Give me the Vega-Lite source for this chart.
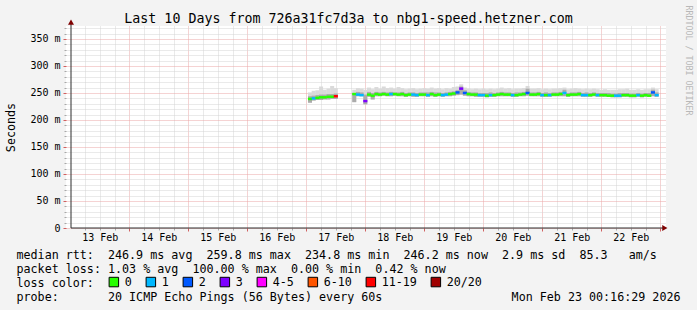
{
  "$schema": "https://vega.github.io/schema/vega-lite/v6.json",
  "width": 600,
  "height": 202,
  "autosize": {"type": "none"},
  "padding": {"left": 66, "top": 26, "right": 31, "bottom": 82},
  "background": "#f3f3f3",
  "config": {
    "view": {"fill": "#ffffff", "stroke": null},
    "font": "DejaVu Sans Mono",
    "axis": {"labelFont": "DejaVu Sans Mono", "titleFont": "DejaVu Sans Mono", "titleFontWeight": "normal", "titleColor": "#000000", "labelColor": "#000000"}
  },
  "title": {
    "text": "Last 10 Days from 726a31fc7d3a to nbg1-speed.hetzner.com",
    "font": "DejaVu Sans Mono",
    "fontSize": 13.3,
    "fontWeight": "normal",
    "color": "#000000",
    "anchor": "middle",
    "frame": "group",
    "dx": -17.5,
    "dy": 20,
    "offset": 0
  },
  "datasets": {
    "ping": [
      {"t": "2026-02-17T01:30", "lo": 232, "q": 244, "m": 239, "hi": 251, "l": "0"},
      {"t": "2026-02-17T03:00", "lo": 236, "q": 245, "m": 240, "hi": 254, "l": "1"},
      {"t": "2026-02-17T04:30", "lo": 237, "q": 246, "m": 241, "hi": 255, "l": "0"},
      {"t": "2026-02-17T06:00", "lo": 237, "q": 247, "m": 242, "hi": 262, "l": "0"},
      {"t": "2026-02-17T07:30", "lo": 238, "q": 247, "m": 242, "hi": 256, "l": "0"},
      {"t": "2026-02-17T09:00", "lo": 238, "q": 248, "m": 243, "hi": 258, "l": "0"},
      {"t": "2026-02-17T10:30", "lo": 239, "q": 248, "m": 243, "hi": 263, "l": "0"},
      {"t": "2026-02-17T12:00", "lo": 239, "q": 249, "m": 244, "hi": 259, "l": "11-19"},
      {"t": "2026-02-17T19:30", "lo": 233, "q": 250, "m": 248, "hi": 256, "l": "0"},
      {"t": "2026-02-17T21:00", "lo": 244, "q": 252, "m": 247, "hi": 259, "l": "1"},
      {"t": "2026-02-17T22:30", "lo": 244, "q": 251, "m": 246, "hi": 258, "l": "1"},
      {"t": "2026-02-18T00:00", "lo": 229, "q": 247, "m": 235, "hi": 256, "l": "3"},
      {"t": "2026-02-18T01:30", "lo": 243, "q": 252, "m": 247, "hi": 260, "l": "0"},
      {"t": "2026-02-18T03:00", "lo": 238, "q": 250, "m": 245, "hi": 257, "l": "0"},
      {"t": "2026-02-18T04:30", "lo": 244, "q": 252, "m": 248, "hi": 261, "l": "0"},
      {"t": "2026-02-18T06:00", "lo": 244, "q": 251, "m": 247, "hi": 258, "l": "0"},
      {"t": "2026-02-18T07:30", "lo": 245, "q": 252, "m": 248, "hi": 262, "l": "0"},
      {"t": "2026-02-18T09:00", "lo": 244, "q": 251, "m": 247, "hi": 259, "l": "0"},
      {"t": "2026-02-18T10:30", "lo": 244, "q": 252, "m": 248, "hi": 260, "l": "1"},
      {"t": "2026-02-18T12:00", "lo": 245, "q": 251, "m": 248, "hi": 258, "l": "0"},
      {"t": "2026-02-18T13:30", "lo": 244, "q": 251, "m": 247, "hi": 261, "l": "0"},
      {"t": "2026-02-18T15:00", "lo": 244, "q": 252, "m": 248, "hi": 259, "l": "0"},
      {"t": "2026-02-18T16:30", "lo": 243, "q": 250, "m": 246, "hi": 257, "l": "0"},
      {"t": "2026-02-18T18:00", "lo": 244, "q": 251, "m": 247, "hi": 258, "l": "0"},
      {"t": "2026-02-18T19:30", "lo": 243, "q": 251, "m": 247, "hi": 259, "l": "1"},
      {"t": "2026-02-18T21:00", "lo": 243, "q": 250, "m": 246, "hi": 257, "l": "1"},
      {"t": "2026-02-18T22:30", "lo": 244, "q": 251, "m": 247, "hi": 258, "l": "0"},
      {"t": "2026-02-19T00:00", "lo": 244, "q": 251, "m": 247, "hi": 259, "l": "0"},
      {"t": "2026-02-19T01:30", "lo": 243, "q": 251, "m": 246, "hi": 258, "l": "1"},
      {"t": "2026-02-19T03:00", "lo": 244, "q": 252, "m": 248, "hi": 260, "l": "0"},
      {"t": "2026-02-19T04:30", "lo": 243, "q": 251, "m": 246, "hi": 258, "l": "0"},
      {"t": "2026-02-19T06:00", "lo": 244, "q": 251, "m": 247, "hi": 259, "l": "0"},
      {"t": "2026-02-19T07:30", "lo": 243, "q": 250, "m": 246, "hi": 257, "l": "1"},
      {"t": "2026-02-19T09:00", "lo": 244, "q": 251, "m": 247, "hi": 259, "l": "1"},
      {"t": "2026-02-19T10:30", "lo": 244, "q": 252, "m": 248, "hi": 258, "l": "0"},
      {"t": "2026-02-19T12:00", "lo": 245, "q": 253, "m": 249, "hi": 261, "l": "0"},
      {"t": "2026-02-19T13:30", "lo": 246, "q": 255, "m": 251, "hi": 262, "l": "2"},
      {"t": "2026-02-19T15:00", "lo": 247, "q": 262, "m": 258, "hi": 266, "l": "3"},
      {"t": "2026-02-19T16:30", "lo": 245, "q": 255, "m": 250, "hi": 260, "l": "2"},
      {"t": "2026-02-19T18:00", "lo": 244, "q": 252, "m": 248, "hi": 258, "l": "0"},
      {"t": "2026-02-19T19:30", "lo": 244, "q": 251, "m": 247, "hi": 257, "l": "0"},
      {"t": "2026-02-19T21:00", "lo": 243, "q": 251, "m": 247, "hi": 258, "l": "0"},
      {"t": "2026-02-19T22:30", "lo": 243, "q": 250, "m": 246, "hi": 257, "l": "1"},
      {"t": "2026-02-20T00:00", "lo": 243, "q": 250, "m": 246, "hi": 258, "l": "1"},
      {"t": "2026-02-20T01:30", "lo": 242, "q": 250, "m": 245, "hi": 257, "l": "0"},
      {"t": "2026-02-20T03:00", "lo": 243, "q": 251, "m": 246, "hi": 258, "l": "1"},
      {"t": "2026-02-20T04:30", "lo": 243, "q": 250, "m": 246, "hi": 257, "l": "0"},
      {"t": "2026-02-20T06:00", "lo": 244, "q": 251, "m": 247, "hi": 258, "l": "0"},
      {"t": "2026-02-20T07:30", "lo": 244, "q": 252, "m": 248, "hi": 260, "l": "0"},
      {"t": "2026-02-20T09:00", "lo": 244, "q": 251, "m": 247, "hi": 258, "l": "0"},
      {"t": "2026-02-20T10:30", "lo": 244, "q": 251, "m": 247, "hi": 259, "l": "0"},
      {"t": "2026-02-20T12:00", "lo": 243, "q": 250, "m": 246, "hi": 257, "l": "1"},
      {"t": "2026-02-20T13:30", "lo": 243, "q": 251, "m": 246, "hi": 258, "l": "0"},
      {"t": "2026-02-20T15:00", "lo": 244, "q": 251, "m": 247, "hi": 258, "l": "0"},
      {"t": "2026-02-20T16:30", "lo": 244, "q": 252, "m": 248, "hi": 259, "l": "0"},
      {"t": "2026-02-20T18:00", "lo": 245, "q": 258, "m": 250, "hi": 263, "l": "2"},
      {"t": "2026-02-20T19:30", "lo": 244, "q": 251, "m": 247, "hi": 258, "l": "0"},
      {"t": "2026-02-20T21:00", "lo": 244, "q": 251, "m": 247, "hi": 258, "l": "0"},
      {"t": "2026-02-20T22:30", "lo": 244, "q": 252, "m": 248, "hi": 259, "l": "0"},
      {"t": "2026-02-21T00:00", "lo": 243, "q": 250, "m": 246, "hi": 257, "l": "1"},
      {"t": "2026-02-21T01:30", "lo": 243, "q": 251, "m": 246, "hi": 258, "l": "0"},
      {"t": "2026-02-21T03:00", "lo": 243, "q": 250, "m": 246, "hi": 257, "l": "1"},
      {"t": "2026-02-21T04:30", "lo": 244, "q": 251, "m": 247, "hi": 258, "l": "0"},
      {"t": "2026-02-21T06:00", "lo": 244, "q": 251, "m": 247, "hi": 258, "l": "0"},
      {"t": "2026-02-21T07:30", "lo": 244, "q": 252, "m": 248, "hi": 259, "l": "0"},
      {"t": "2026-02-21T09:00", "lo": 244, "q": 256, "m": 250, "hi": 260, "l": "1"},
      {"t": "2026-02-21T10:30", "lo": 243, "q": 250, "m": 246, "hi": 257, "l": "0"},
      {"t": "2026-02-21T12:00", "lo": 244, "q": 251, "m": 247, "hi": 258, "l": "0"},
      {"t": "2026-02-21T13:30", "lo": 244, "q": 251, "m": 247, "hi": 259, "l": "0"},
      {"t": "2026-02-21T15:00", "lo": 244, "q": 252, "m": 248, "hi": 258, "l": "0"},
      {"t": "2026-02-21T16:30", "lo": 243, "q": 250, "m": 246, "hi": 257, "l": "1"},
      {"t": "2026-02-21T18:00", "lo": 243, "q": 251, "m": 246, "hi": 258, "l": "1"},
      {"t": "2026-02-21T19:30", "lo": 243, "q": 250, "m": 246, "hi": 257, "l": "0"},
      {"t": "2026-02-21T21:00", "lo": 244, "q": 251, "m": 247, "hi": 258, "l": "0"},
      {"t": "2026-02-21T22:30", "lo": 243, "q": 250, "m": 246, "hi": 257, "l": "1"},
      {"t": "2026-02-22T00:00", "lo": 243, "q": 250, "m": 246, "hi": 256, "l": "0"},
      {"t": "2026-02-22T01:30", "lo": 243, "q": 250, "m": 246, "hi": 257, "l": "0"},
      {"t": "2026-02-22T03:00", "lo": 243, "q": 250, "m": 245, "hi": 256, "l": "0"},
      {"t": "2026-02-22T04:30", "lo": 242, "q": 249, "m": 245, "hi": 256, "l": "0"},
      {"t": "2026-02-22T06:00", "lo": 242, "q": 249, "m": 245, "hi": 256, "l": "1"},
      {"t": "2026-02-22T07:30", "lo": 242, "q": 250, "m": 245, "hi": 257, "l": "1"},
      {"t": "2026-02-22T09:00", "lo": 243, "q": 250, "m": 246, "hi": 257, "l": "0"},
      {"t": "2026-02-22T10:30", "lo": 243, "q": 250, "m": 246, "hi": 258, "l": "0"},
      {"t": "2026-02-22T12:00", "lo": 242, "q": 249, "m": 245, "hi": 256, "l": "0"},
      {"t": "2026-02-22T13:30", "lo": 242, "q": 249, "m": 245, "hi": 256, "l": "0"},
      {"t": "2026-02-22T15:00", "lo": 243, "q": 250, "m": 246, "hi": 257, "l": "1"},
      {"t": "2026-02-22T16:30", "lo": 242, "q": 249, "m": 245, "hi": 256, "l": "0"},
      {"t": "2026-02-22T18:00", "lo": 243, "q": 250, "m": 246, "hi": 257, "l": "0"},
      {"t": "2026-02-22T19:30", "lo": 243, "q": 250, "m": 245, "hi": 257, "l": "0"},
      {"t": "2026-02-22T21:00", "lo": 244, "q": 256, "m": 251, "hi": 260, "l": "2"},
      {"t": "2026-02-22T22:30", "lo": 243, "q": 251, "m": 246, "hi": 257, "l": "1"}
    ]
  },
  "layer": [
    {
      "data": {"name": "ping"},
      "mark": {"type": "bar", "width": 4, "color": "#dadada"},
      "encoding": {
        "x": {
          "field": "t", "type": "temporal",
          "scale": {"domain": [{"year": 2026, "month": 2, "date": 13, "hours": 0, "minutes": 16, "seconds": 29}, {"year": 2026, "month": 2, "date": 23, "hours": 0, "minutes": 16, "seconds": 29}]},
          "axis": {
            "orient": "bottom",
            "grid": true, "gridColor": "#d4d4d4", "gridDash": [1, 1],
            "values": [
              {"year": 2026, "month": 2, "date": 13, "hours": 6}, {"year": 2026, "month": 2, "date": 13, "hours": 12}, {"year": 2026, "month": 2, "date": 13, "hours": 18},
              {"year": 2026, "month": 2, "date": 14, "hours": 6}, {"year": 2026, "month": 2, "date": 14, "hours": 12}, {"year": 2026, "month": 2, "date": 14, "hours": 18},
              {"year": 2026, "month": 2, "date": 15, "hours": 6}, {"year": 2026, "month": 2, "date": 15, "hours": 12}, {"year": 2026, "month": 2, "date": 15, "hours": 18},
              {"year": 2026, "month": 2, "date": 16, "hours": 6}, {"year": 2026, "month": 2, "date": 16, "hours": 12}, {"year": 2026, "month": 2, "date": 16, "hours": 18},
              {"year": 2026, "month": 2, "date": 17, "hours": 6}, {"year": 2026, "month": 2, "date": 17, "hours": 12}, {"year": 2026, "month": 2, "date": 17, "hours": 18},
              {"year": 2026, "month": 2, "date": 18, "hours": 6}, {"year": 2026, "month": 2, "date": 18, "hours": 12}, {"year": 2026, "month": 2, "date": 18, "hours": 18},
              {"year": 2026, "month": 2, "date": 19, "hours": 6}, {"year": 2026, "month": 2, "date": 19, "hours": 12}, {"year": 2026, "month": 2, "date": 19, "hours": 18},
              {"year": 2026, "month": 2, "date": 20, "hours": 6}, {"year": 2026, "month": 2, "date": 20, "hours": 12}, {"year": 2026, "month": 2, "date": 20, "hours": 18},
              {"year": 2026, "month": 2, "date": 21, "hours": 6}, {"year": 2026, "month": 2, "date": 21, "hours": 12}, {"year": 2026, "month": 2, "date": 21, "hours": 18},
              {"year": 2026, "month": 2, "date": 22, "hours": 6}, {"year": 2026, "month": 2, "date": 22, "hours": 12}, {"year": 2026, "month": 2, "date": 22, "hours": 18}
            ],
            "labels": false, "ticks": true, "tickColor": "#a8a8a8", "tickSize": 2, "domain": false,
            "title": "median\u00a0rtt:\u00a0\u00a0246.9\u00a0ms\u00a0avg\u00a0\u00a0259.8\u00a0ms\u00a0max\u00a0\u00a0234.8\u00a0ms\u00a0min\u00a0\u00a0246.2\u00a0ms\u00a0now\u00a0\u00a02.9\u00a0ms\u00a0sd\u00a0\u00a085.3\u00a0\u00a0\u00a0am/s",
            "titleX": -50, "titleY": 30, "titleAlign": "left", "titleBaseline": "alphabetic", "titleFontSize": 11.7
          }
        },
        "y": {
          "field": "lo", "type": "quantitative",
          "scale": {"domain": [0, 374], "nice": false},
          "axis": {
            "orient": "left",
            "grid": true, "gridColor": "#d4d4d4", "gridDash": [1, 1],
            "values": [10, 20, 30, 40, 60, 70, 80, 90, 110, 120, 130, 140, 160, 170, 180, 190, 210, 220, 230, 240, 260, 270, 280, 290, 310, 320, 330, 340, 360, 370],
            "labels": false, "ticks": true, "tickColor": "#a8a8a8", "tickSize": 2, "domain": false,
            "title": "Seconds", "titleX": -56, "titleY": 101, "titleAngle": -90, "titleAlign": "center", "titleBaseline": "middle", "titleFontSize": 11.7
          }
        },
        "y2": {"field": "hi"}
      }
    },
    {
      "data": {"name": "ping"},
      "mark": {"type": "bar", "width": 4, "color": "#ababab"},
      "encoding": {
        "x": {
          "field": "t", "type": "temporal",
          "axis": {
            "orient": "bottom",
            "grid": true, "gridColor": "#eba6a6", "gridDash": [1, 1],
            "values": [
              {"year": 2026, "month": 2, "date": 14}, {"year": 2026, "month": 2, "date": 15}, {"year": 2026, "month": 2, "date": 16},
              {"year": 2026, "month": 2, "date": 17}, {"year": 2026, "month": 2, "date": 18}, {"year": 2026, "month": 2, "date": 19},
              {"year": 2026, "month": 2, "date": 20}, {"year": 2026, "month": 2, "date": 21}, {"year": 2026, "month": 2, "date": 22},
              {"year": 2026, "month": 2, "date": 23}
            ],
            "labels": false, "ticks": true, "tickColor": "#d06060", "tickSize": 3, "domain": false,
            "title": "packet\u00a0loss:\u00a01.03\u00a0%\u00a0avg\u00a0\u00a0100.00\u00a0%\u00a0max\u00a0\u00a00.00\u00a0%\u00a0min\u00a0\u00a00.42\u00a0%\u00a0now",
            "titleX": -50, "titleY": 44, "titleAlign": "left", "titleBaseline": "alphabetic", "titleFontSize": 11.7
          }
        },
        "y": {
          "field": "lo", "type": "quantitative",
          "axis": {
            "orient": "left",
            "grid": true, "gridColor": "#eba6a6", "gridDash": [1, 1],
            "values": [0, 50, 100, 150, 200, 250, 300, 350],
            "labelExpr": "datum.value == 0 ? '0' : datum.value + ' m'",
            "labelFontSize": 10, "labelPadding": 3,
            "ticks": true, "tickColor": "#d06060", "tickSize": 3, "domain": false, "title": null
          }
        },
        "y2": {"field": "q"}
      }
    },
    {
      "data": {"name": "ping"},
      "mark": {"type": "point", "shape": "M-1,-0.6H1V0.6H-1Z", "size": 17, "filled": true, "opacity": 1, "strokeWidth": 0},
      "encoding": {
        "x": {
          "field": "t", "type": "temporal",
          "axis": {
            "orient": "bottom",
            "values": [
              {"year": 2026, "month": 2, "date": 13, "hours": 12},
              {"year": 2026, "month": 2, "date": 14, "hours": 12},
              {"year": 2026, "month": 2, "date": 15, "hours": 12},
              {"year": 2026, "month": 2, "date": 16, "hours": 12},
              {"year": 2026, "month": 2, "date": 17, "hours": 12},
              {"year": 2026, "month": 2, "date": 18, "hours": 12},
              {"year": 2026, "month": 2, "date": 19, "hours": 12},
              {"year": 2026, "month": 2, "date": 20, "hours": 12},
              {"year": 2026, "month": 2, "date": 21, "hours": 12},
              {"year": 2026, "month": 2, "date": 22, "hours": 12}
            ],
            "format": "%d %b", "labelFontSize": 10, "labelPadding": 4,
            "grid": false, "ticks": false, "domain": false,
            "title": "probe:\u00a0\u00a0\u00a0\u00a0\u00a0\u00a0\u00a020\u00a0ICMP\u00a0Echo\u00a0Pings\u00a0(56\u00a0Bytes)\u00a0every\u00a060s",
            "titleX": -50, "titleY": 72, "titleAlign": "left", "titleBaseline": "alphabetic", "titleFontSize": 11.7
          }
        },
        "y": {
          "field": "m", "type": "quantitative",
          "axis": {
            "orient": "right", "grid": false, "labels": false, "ticks": false, "domain": false,
            "title": "RRDTOOL / TOBI OETIKER", "titleX": 21, "titleY": 34, "titleAngle": 90,
            "titleAlign": "center", "titleBaseline": "middle", "titleFontSize": 8.3, "titleColor": "#b8b8b8"
          }
        },
        "color": {
          "field": "l", "type": "nominal",
          "scale": {
            "domain": ["0", "1", "2", "3", "4-5", "6-10", "11-19", "20/20"],
            "range": ["#26ff00", "#00b8ff", "#0059ff", "#7e00ff", "#ff00ff", "#ff5500", "#ff0000", "#a00000"]
          },
          "legend": {
            "orient": "none", "legendX": 42, "legendY": 250, "direction": "horizontal", "columns": 8,
            "title": null,
            "labelFont": "DejaVu Sans Mono", "labelFontSize": 11.7, "labelColor": "#000000", "labelOffset": 5,
            "symbolType": "square", "symbolSize": 90, "symbolStrokeColor": "#000000", "symbolStrokeWidth": 1,
            "columnPadding": 12
          }
        }
      }
    },
    {
      "data": {"values": [
        {"t": "2026-02-13T00:16:29", "t2": "2026-02-23T01:20:00", "v": 0, "v2": 0},
        {"t": "2026-02-13T00:16:29", "t2": "2026-02-13T00:16:29", "v": 0, "v2": 383}
      ]},
      "mark": {"type": "rule", "color": "#2c2c2c", "strokeWidth": 1},
      "encoding": {
        "x": {
          "field": "t", "type": "temporal",
          "axis": {
            "orient": "bottom",
            "grid": false, "labels": false, "ticks": false, "domain": false,
            "title": "Mon\u00a0Feb\u00a023\u00a000:16:29\u00a02026",
            "titleX": 614, "titleY": 72, "titleAlign": "right", "titleBaseline": "alphabetic", "titleFontSize": 11.7
          }
        },
        "x2": {"field": "t2"},
        "y": {"field": "v", "type": "quantitative", "axis": null},
        "y2": {"field": "v2"}
      }
    },
    {
      "data": {"values": [{"t": "2026-02-13T00:16:29", "v": 381}]},
      "mark": {"type": "point", "shape": "triangle-up", "filled": true, "size": 36, "color": "#7f0000", "opacity": 1},
      "encoding": {
        "x": {
          "field": "t", "type": "temporal",
          "axis": {
            "orient": "bottom",
            "grid": false, "labels": false, "ticks": false, "domain": false,
            "title": "loss\u00a0color:",
            "titleX": -50, "titleY": 58, "titleAlign": "left", "titleBaseline": "alphabetic", "titleFontSize": 11.7
          }
        },
        "y": {"field": "v", "type": "quantitative", "axis": null}
      }
    },
    {
      "data": {"values": [{"t": "2026-02-23T01:50:00", "v": 0}]},
      "mark": {"type": "point", "shape": "triangle-right", "filled": true, "size": 36, "color": "#7f0000", "opacity": 1},
      "encoding": {
        "x": {"field": "t", "type": "temporal", "axis": null},
        "y": {"field": "v", "type": "quantitative", "axis": null}
      }
    }
  ],
  "resolve": {"axis": {"x": "independent", "y": "independent"}}
}
